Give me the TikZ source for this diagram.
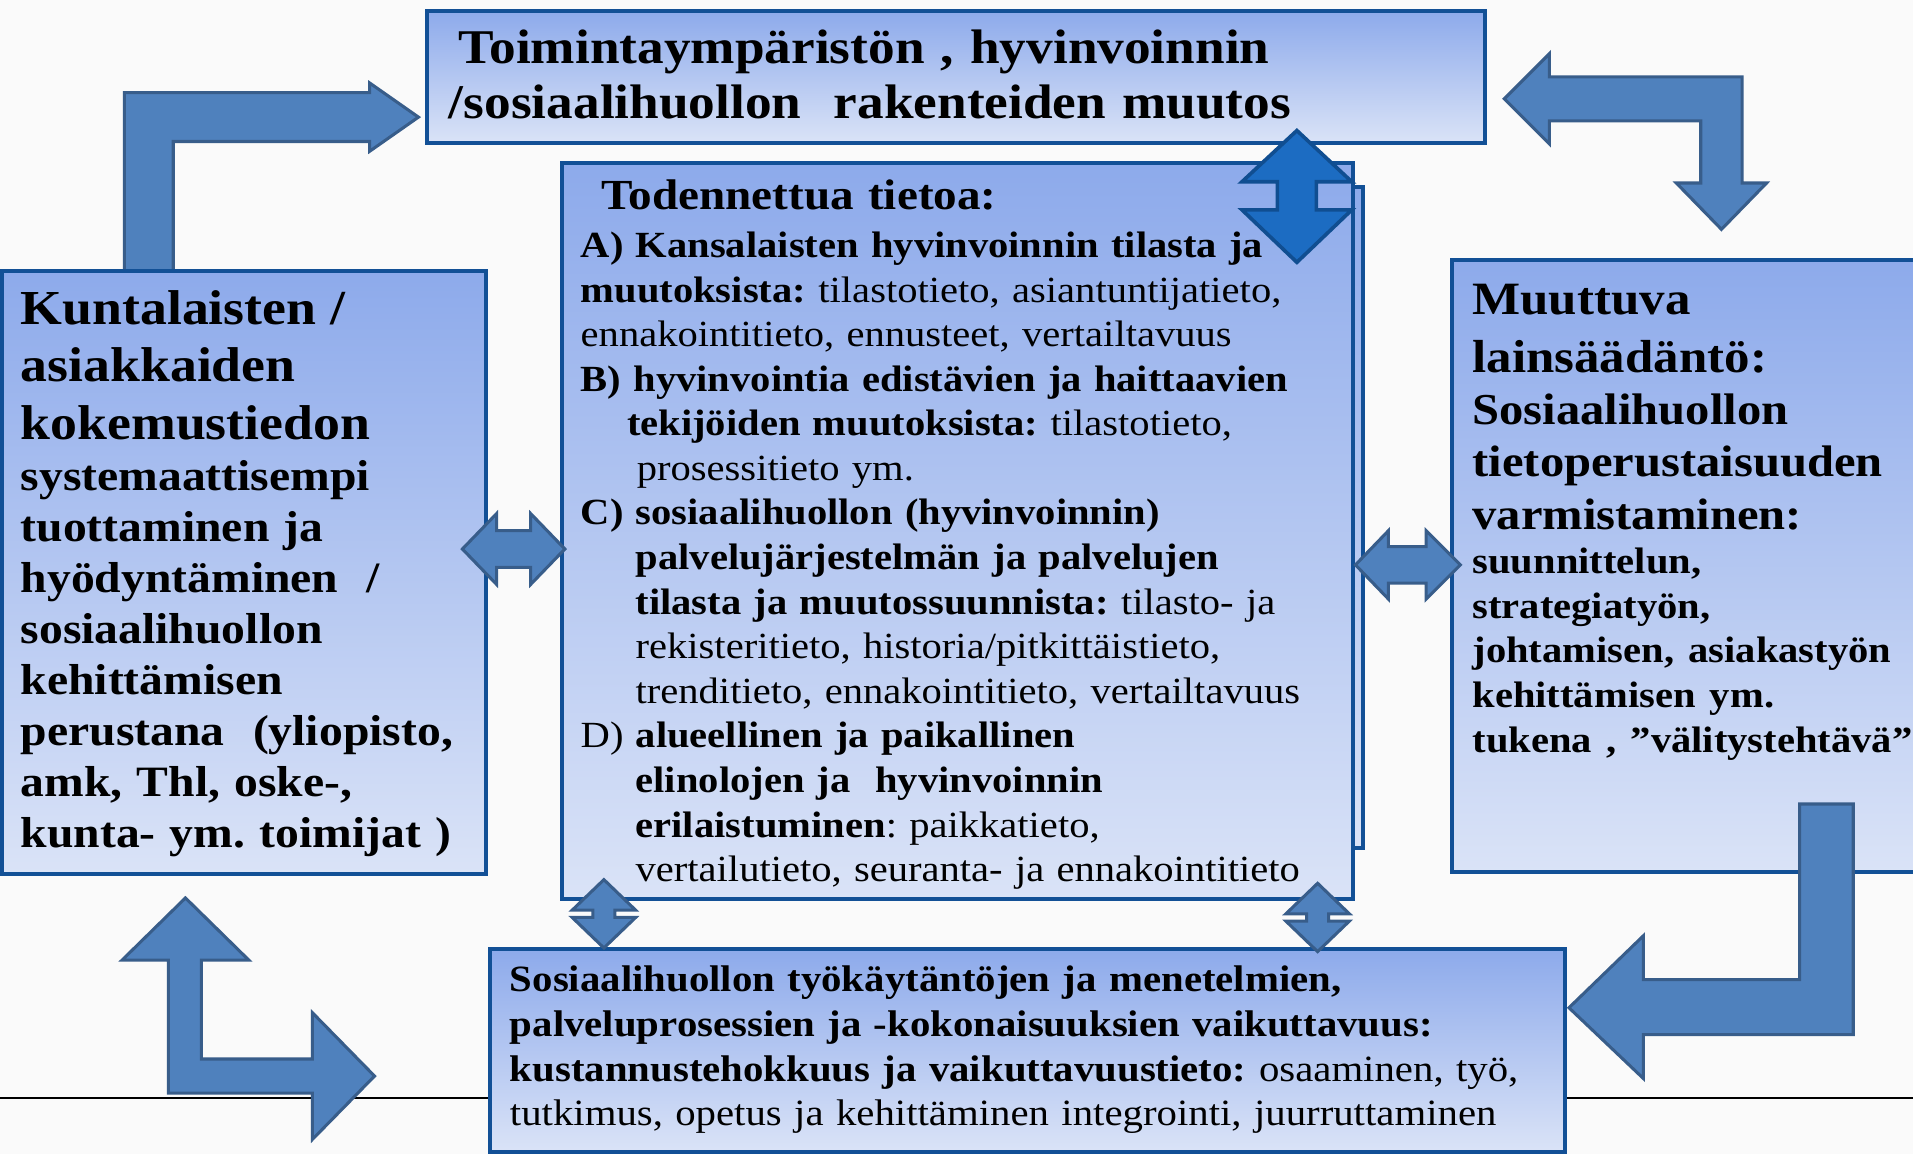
\documentclass[tikz,border=0pt]{standalone}
\usepackage{fontspec}
\setmainfont{Liberation Serif}[FakeStretch=1.1]
\usetikzlibrary{positioning, calc}
\usepackage{xcolor}
\frenchspacing

\definecolor{boxtop}{RGB}{141,170,235}
\definecolor{boxbot}{RGB}{218,227,247}
\definecolor{boxline}{RGB}{18,80,150}
\definecolor{arrfill}{RGB}{79,129,189}
\definecolor{arrline}{RGB}{56,93,138}
\definecolor{udfill}{RGB}{28,108,194}
\definecolor{udline}{RGB}{16,78,145}
\definecolor{bgcol}{RGB}{250,250,250}

\tikzset{
  infobox/.style={draw=boxline, line width=0.33mm, top color=boxtop, bottom color=boxbot,
    inner sep=0pt, outer sep=0pt, anchor=north west},
  blockarrow/.style={fill=arrfill, draw=arrline, line width=0.25mm, line join=miter},
  txt/.style={inner sep=0pt, outer sep=0pt, anchor=base west, align=left},
}

\begin{document}
\begin{tikzpicture}[x=0.1mm, y=-0.1mm]
          % 子圖形 background (類型: frame)
          \useasboundingbox (0,0) rectangle (1568,946);
          \clip (0,0) rectangle (1568,946);
          \fill[bgcol] (0,0) rectangle (1568,946);
          \draw[line width=0.5pt, black] (0,900) -- (1568,900);

          % 子圖形 arrow_top_left (類型: bent arrow)
          \begin{scope}[shift={(0.0, 0.0)}]
            \draw[blockarrow] (102,222) -- (102,76) -- (303,76) -- (303,68) -- (343,96)
              -- (303,124) -- (303,116) -- (142,116) -- (142,222) -- cycle;
          \end{scope}

          % 子圖形 arrow_top_right (類型: bent arrow)
          \begin{scope}[shift={(0.0, 0.0)}]
            \draw[blockarrow] (1233,81) -- (1270,44) -- (1270,63) -- (1428,63) -- (1428,150)
              -- (1448,150) -- (1411,188) -- (1374,150) -- (1394,150) -- (1394,99)
              -- (1270,99) -- (1270,118) -- cycle;
          \end{scope}

          % 子圖形 boxes (類型: box)
          \begin{scope}[shift={(0.0, 0.0)}]
            \node[infobox, minimum width=86.7mm, minimum height=10.8mm] (topBox) at (350,9) {};
            \node[infobox, minimum width=39.6mm, minimum height=49.4mm] (leftBox) at (2,222) {};
            \node[infobox, minimum width=64.8mm, minimum height=54.2mm] (midShadow) at (469,153) {};
            \node[infobox, minimum width=64.8mm, minimum height=60.3mm] (midBox) at (461,134) {};
            \node[infobox, minimum width=40mm, minimum height=50.2mm] (rightBox) at (1190,213) {};
            \node[infobox, minimum width=88.1mm, minimum height=16.6mm] (botBox) at (402,778) {};
          \end{scope}

          % 子圖形 arrow_up_down (類型: double arrow)
          \begin{scope}[shift={(0.0, 0.0)}]
            \draw[fill=udfill, draw=udline, line width=0.3mm, line join=miter]
              (1063,107) -- (1108,149) -- (1079,149) -- (1079,172) -- (1108,172) -- (1063,215)
              -- (1018,172) -- (1047,172) -- (1047,149) -- (1018,149) -- cycle;
          \end{scope}

          % 子圖形 arrow_left_mid / arrow_mid_right (類型: double arrow)
          \begin{scope}[shift={(0.0, 0.0)}]
            \draw[blockarrow] (379,450) -- (407,421) -- (407,435) -- (435,435) -- (435,421)
              -- (463,450) -- (435,479) -- (435,465) -- (407,465) -- (407,479) -- cycle;
            \draw[blockarrow] (1111,463) -- (1138,435) -- (1138,448) -- (1169,448) -- (1169,435)
              -- (1197,463) -- (1169,491) -- (1169,478) -- (1138,478) -- (1138,491) -- cycle;
          \end{scope}

          % 子圖形 diamonds (類型: double arrow)
          \foreach \cx/\cy in {495/749, 1080/752}{
            \draw[blockarrow, shift={(\cx,\cy)}] (0,-28) -- (26,-3) -- (9,-3) -- (9,3) -- (26,3)
              -- (0,28) -- (-26,3) -- (-9,3) -- (-9,-3) -- (-26,-3) -- cycle;
          }

          % 子圖形 arrow_bottom_left (類型: bent arrow)
          \begin{scope}[shift={(0.0, 0.0)}]
            \draw[blockarrow] (152,736) -- (204,787) -- (165,787) -- (165,868) -- (256,868)
              -- (256,830) -- (307,882) -- (256,934) -- (256,896) -- (138,896) -- (138,787)
              -- (100,787) -- cycle;
          \end{scope}

          % 子圖形 arrow_bottom_right (類型: bent arrow)
          \begin{scope}[shift={(0.0, 0.0)}]
            \draw[blockarrow] (1475,659) -- (1519,659) -- (1519,848) -- (1347,848) -- (1347,884)
              -- (1286,826) -- (1347,767) -- (1347,803) -- (1475,803) -- cycle;
          \end{scope}

          % 子圖形 texts (類型: label)
          \node[txt, text width=100mm, font=\fontsize{11.3}{12.8}\selectfont\bfseries] (topTxt) at (368,52)
            {\hspace*{0.8mm}Toimintaympäristön , hyvinvoinnin\\/sosiaalihuollon\ \ rakenteiden muutos};

          \node[txt, text width=45mm, font=\bfseries] (leftTxt) at (17,266)
            {{\fontsize{11.4}{13.4}\selectfont Kuntalaisten /\\asiakkaiden\\kokemustiedon\par}
             {\fontsize{10.1}{11.9}\selectfont systemaattisempi\\tuottaminen ja\\hyödyntäminen\ \ /\\
              sosiaalihuollon\\kehittämisen\\perustana\ \ (yliopisto,\\amk, Thl, oske-,\\kunta- ym. toimijat )\par}};

          \node[txt, text width=60mm, font=\fontsize{10}{12}\selectfont\bfseries] (midTitle) at (493,172)
            {Todennettua tietoa:};
          \node[txt, text width=64mm, font=\fontsize{8.6}{10.4}\selectfont] (midTxt) at (476,211)
            {\textbf{A) Kansalaisten hyvinvoinnin tilasta ja}\\
             \textbf{muutoksista:} tilastotieto, asiantuntijatieto,\\
             ennakointitieto, ennusteet, vertailtavuus\\
             \textbf{B) hyvinvointia edistävien ja haittaavien}\\
             \hspace*{3.8mm}\textbf{tekijöiden muutoksista:} tilastotieto,\\
             \hspace*{4.6mm}prosessitieto ym.\\
             \textbf{C) sosiaalihuollon (hyvinvoinnin)}\\
             \hspace*{4.5mm}\textbf{palvelujärjestelmän ja palvelujen}\\
             \hspace*{4.5mm}\textbf{tilasta ja muutossuunnista:} tilasto- ja\\
             \hspace*{4.5mm}rekisteritieto, historia/pitkittäistieto,\\
             \hspace*{4.5mm}trenditieto, ennakointitieto, vertailtavuus\\
             D) \textbf{alueellinen ja paikallinen}\\
             \hspace*{4.5mm}\textbf{elinolojen ja\ \ hyvinvoinnin}\\
             \hspace*{4.5mm}\textbf{erilaistuminen}: paikkatieto,\\
             \hspace*{4.5mm}vertailutieto, seuranta- ja ennakointitieto};

          \node[txt, text width=40mm, font=\bfseries] (rightTxt) at (1207,258)
            {{\fontsize{10.8}{13.4}\selectfont Muuttuva\\lainsäädäntö:\par}
             {\fontsize{10.3}{12.2}\selectfont Sosiaalihuollon\\tietoperustaisuuden\\varmistaminen:\par}
             {\fontsize{8.6}{10.4}\selectfont suunnittelun,\\strategiatyön,\\johtamisen, asiakastyön\\
              kehittämisen ym.\\tukena , ”välitystehtävä”\par}};

          \node[txt, text width=88mm, font=\fontsize{8.65}{10.4}\selectfont] (botTxt) at (418,813)
            {\textbf{Sosiaalihuollon työkäytäntöjen ja menetelmien,}\\
             \textbf{palveluprosessien ja -kokonaisuuksien vaikuttavuus:}\\
             \textbf{kustannustehokkuus ja vaikuttavuustieto:} osaaminen, työ,\\
             tutkimus, opetus ja kehittäminen integrointi, juurruttaminen};
        \end{tikzpicture}
\end{document}
